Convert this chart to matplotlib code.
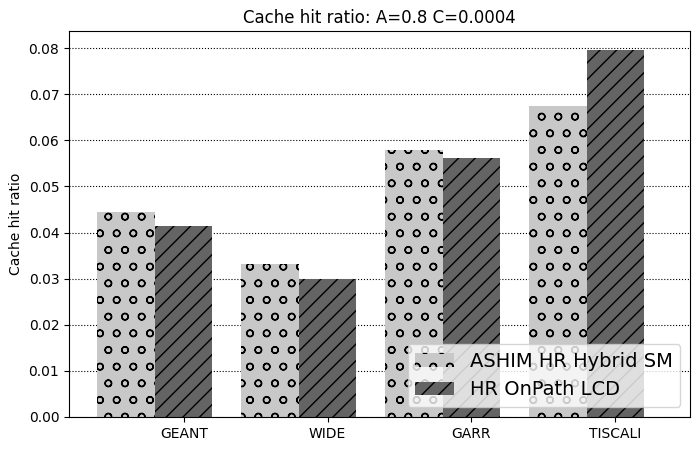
import matplotlib.pyplot as plt
import numpy as np

topologies = ["GEANT", "WIDE", "GARR", "TISCALI"]
ashim_hybrid = [0.0445, 0.0332, 0.0580, 0.0675]
onpath_lcd = [0.0415, 0.0300, 0.0562, 0.0795]

width = 0.4
ind = np.arange(len(topologies))

fig = plt.figure(figsize=(7, 4.51), dpi=100)
ax = fig.add_axes([0.0986, 0.0754, 0.8874, 0.8556])
ax.set_axisbelow(True)
ax.yaxis.grid(True, linestyle=':', color='black')

ax.bar(ind, ashim_hybrid, width, align='edge', color='#c8c8c8',
       edgecolor='black', linewidth=0, hatch='o', label='ASHIM HR Hybrid SM')
ax.bar(ind + width, onpath_lcd, width, align='edge', color='#646464',
       edgecolor='black', linewidth=0, hatch='//', label='HR OnPath LCD')

ax.set_xticks(ind + 1.5 * width)
ax.set_xticklabels(topologies)
ax.set_xlim(-0.197, 4.12)
ax.set_ylim(0, 0.0837)
ax.set_ylabel("Cache hit ratio")
ax.set_title("Cache hit ratio: A=0.8 C=0.0004")
ax.legend(loc='lower right', fontsize=14)

plt.savefig("out.png", dpi=100)
